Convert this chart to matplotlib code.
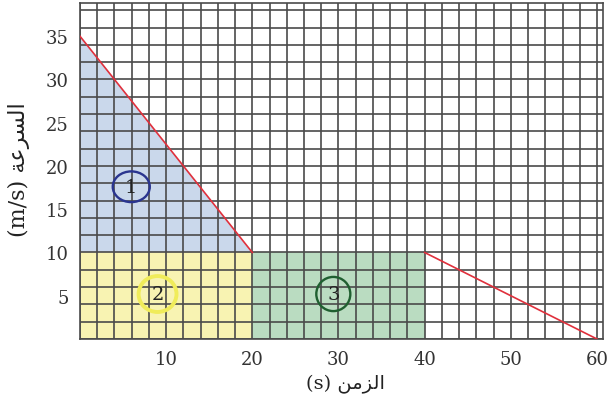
import numpy as np
import matplotlib
matplotlib.use("Agg")
import matplotlib.pyplot as plt
from matplotlib.patches import Polygon, Rectangle, Ellipse

# Motion data: time (s) and speed (m/s) at the corners of the graph
times = [0, 20, 40, 60]
speeds = [35, 10, 10, 0]

x_ticks = [10, 20, 30, 40, 50, 60]
y_ticks = [5, 10, 15, 20, 25, 30, 35]

# Area labels: number, centre (t, v)
area_ids = ["1", "2", "3"]
area_t = [5.95, 9.0, 29.4]
area_v = [17.6, 5.2, 5.2]

# Arabic labels, pre-shaped in visual order
x_label = "(s) " + "\uFEE6\uFEE3\uFEB0\uFEDF\uFE8D"          # الزمن
y_label = "(m/s) " + "\uFE94\uFECB\uFEAE\uFEB4\uFEDF\uFE8D"   # السرعة

fam = ["DejaVu Serif", "DejaVu Sans"]

fig = plt.figure(figsize=(6.08, 4.10), dpi=100)
ax = fig.add_axes([80 / 608, 70 / 410, 523 / 608, 336.5 / 410])
ax.set_xlim(0, 60.7)
ax.set_ylim(0, 38.9)

# shaded areas under the graph
ax.add_patch(Polygon([(times[0], speeds[1]), (times[0], speeds[0]), (times[1], speeds[1])],
                     closed=True, facecolor="#cad8eb", edgecolor="none", zorder=1))
ax.add_patch(Rectangle((times[0], 0), times[1] - times[0], speeds[1],
                       facecolor="#f8f3b2", edgecolor="none", zorder=1))
ax.add_patch(Rectangle((times[1], 0), times[2] - times[1], speeds[2],
                       facecolor="#badcc1", edgecolor="none", zorder=1))

# graph-paper grid
ax.vlines(np.arange(0, 61, 2), 0, 38.9, colors="#4a4a4a", lw=1.2, zorder=2)
ax.hlines(np.arange(0, 39, 2), 0, 60.7, colors="#4a4a4a", lw=1.2, zorder=2)

# speed-time graph
ax.plot(times[:2], speeds[:2], color="#e0303c", lw=1.2, zorder=3)
ax.plot(times[2:], speeds[2:], color="#e0303c", lw=1.2, zorder=3)

# circled area numbers
circ_colors = ["#2a358f", "#f0ec5a", "#1f5f30"]
circ_w = [4.3, 4.4, 3.95]
circ_h = [3.55, 4.15, 3.95]
circ_lw = [1.7, 2.8, 1.7]
for lab, t, v, c, w, h, lw in zip(area_ids, area_t, area_v, circ_colors, circ_w, circ_h, circ_lw):
    ax.add_patch(Ellipse((t, v), w, h, facecolor="none", edgecolor=c, lw=lw, zorder=4))
    ax.text(t, v, lab, ha="center", va="center", fontsize=14, family=fam,
            color="#222222", zorder=5)

ax.set_xticks(x_ticks)
ax.set_yticks(y_ticks)
ax.tick_params(length=0, labelsize=13, colors="#333333")
ax.tick_params(axis="x", pad=8)
ax.tick_params(axis="y", pad=8)
for lbl in ax.get_xticklabels() + ax.get_yticklabels():
    lbl.set_family(fam)

for s in ax.spines.values():
    s.set_color("#4a4a4a")
    s.set_linewidth(1.2)

fig.text(345 / 608, 1 - 384 / 410, x_label, ha="center", va="center",
         fontsize=14, family=fam, color="#222222")
fig.text(19 / 608, 1 - 170 / 410, y_label, ha="center", va="center",
         rotation=90, fontsize=16, family=fam, color="#222222")

fig.savefig("out.png", dpi=100)
